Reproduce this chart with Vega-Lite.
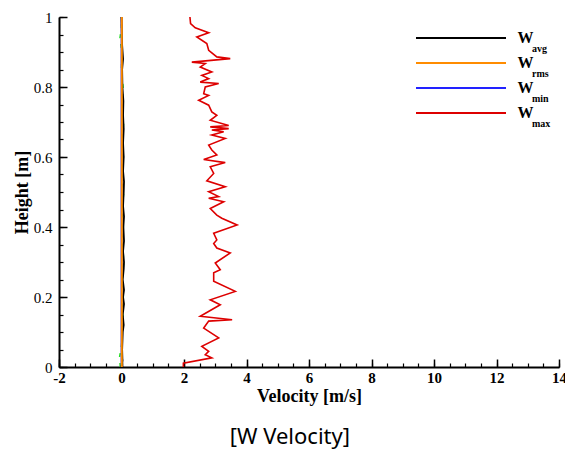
{
  "$schema": "https://vega.github.io/schema/vega-lite/v6.json",
  "width": 500,
  "height": 350,
  "autosize": {"type": "none"},
  "padding": {"left": 59, "top": 17, "right": 6, "bottom": 87},
  "background": "white",
  "config": {"view": {"stroke": null}},
  "title": {"text": "[W Velocity]", "orient": "bottom", "frame": "bounds", "anchor": "middle", "font": "Noto Sans", "fontSize": 22, "fontWeight": "normal", "color": "black", "offset": 22},
  "datasets": {
    "lines": [
      {"series": "min", "h": 0.0, "w": 0.0}, {"series": "min", "h": 0.5, "w": 0.0}, {"series": "min", "h": 1.0, "w": 0.0},
      {"series": "rms", "h": 0.0, "w": 0.01}, {"series": "rms", "h": 0.5, "w": 0.01}, {"series": "rms", "h": 1.0, "w": 0.01},
      {"series": "avg", "h": 0.0, "w": 0.0}, {"series": "avg", "h": 0.02, "w": 0.03}, {"series": "avg", "h": 0.05, "w": 0.02},
      {"series": "avg", "h": 0.1, "w": 0.04}, {"series": "avg", "h": 0.12, "w": 0.07}, {"series": "avg", "h": 0.15, "w": 0.04},
      {"series": "avg", "h": 0.18, "w": 0.08}, {"series": "avg", "h": 0.2, "w": 0.05}, {"series": "avg", "h": 0.22, "w": 0.08},
      {"series": "avg", "h": 0.25, "w": 0.04}, {"series": "avg", "h": 0.28, "w": 0.07}, {"series": "avg", "h": 0.3, "w": 0.08},
      {"series": "avg", "h": 0.33, "w": 0.05}, {"series": "avg", "h": 0.36, "w": 0.08}, {"series": "avg", "h": 0.4, "w": 0.06},
      {"series": "avg", "h": 0.43, "w": 0.08}, {"series": "avg", "h": 0.46, "w": 0.05}, {"series": "avg", "h": 0.5, "w": 0.07},
      {"series": "avg", "h": 0.53, "w": 0.08}, {"series": "avg", "h": 0.56, "w": 0.05}, {"series": "avg", "h": 0.6, "w": 0.07},
      {"series": "avg", "h": 0.64, "w": 0.05}, {"series": "avg", "h": 0.68, "w": 0.07}, {"series": "avg", "h": 0.72, "w": 0.05},
      {"series": "avg", "h": 0.76, "w": 0.06}, {"series": "avg", "h": 0.8, "w": 0.03}, {"series": "avg", "h": 0.85, "w": 0.02},
      {"series": "avg", "h": 0.88, "w": 0.05}, {"series": "avg", "h": 0.92, "w": 0.02}, {"series": "avg", "h": 0.96, "w": 0.01},
      {"series": "avg", "h": 1.0, "w": 0.0},
      {"series": "max", "h": 0.0, "w": 1.98}, {"series": "max", "h": 0.011, "w": 1.98}, {"series": "max", "h": 0.026, "w": 2.89},
      {"series": "max", "h": 0.035, "w": 2.68}, {"series": "max", "h": 0.045, "w": 2.79}, {"series": "max", "h": 0.059, "w": 2.57},
      {"series": "max", "h": 0.083, "w": 3.11}, {"series": "max", "h": 0.111, "w": 2.63}, {"series": "max", "h": 0.131, "w": 2.79},
      {"series": "max", "h": 0.135, "w": 3.54}, {"series": "max", "h": 0.145, "w": 2.52}, {"series": "max", "h": 0.178, "w": 3.16},
      {"series": "max", "h": 0.192, "w": 2.84}, {"series": "max", "h": 0.216, "w": 3.64}, {"series": "max", "h": 0.245, "w": 2.95},
      {"series": "max", "h": 0.269, "w": 2.95}, {"series": "max", "h": 0.278, "w": 3.16}, {"series": "max", "h": 0.297, "w": 3.0},
      {"series": "max", "h": 0.326, "w": 3.48}, {"series": "max", "h": 0.34, "w": 3.05}, {"series": "max", "h": 0.353, "w": 2.95},
      {"series": "max", "h": 0.363, "w": 3.05}, {"series": "max", "h": 0.382, "w": 2.95}, {"series": "max", "h": 0.406, "w": 3.7},
      {"series": "max", "h": 0.425, "w": 3.21}, {"series": "max", "h": 0.434, "w": 3.05}, {"series": "max", "h": 0.453, "w": 2.84},
      {"series": "max", "h": 0.472, "w": 3.27}, {"series": "max", "h": 0.482, "w": 2.79}, {"series": "max", "h": 0.487, "w": 3.11},
      {"series": "max", "h": 0.501, "w": 2.79}, {"series": "max", "h": 0.515, "w": 3.32}, {"series": "max", "h": 0.532, "w": 2.73},
      {"series": "max", "h": 0.553, "w": 2.95}, {"series": "max", "h": 0.572, "w": 2.84}, {"series": "max", "h": 0.584, "w": 3.32},
      {"series": "max", "h": 0.593, "w": 2.63}, {"series": "max", "h": 0.606, "w": 3.05}, {"series": "max", "h": 0.62, "w": 2.89},
      {"series": "max", "h": 0.634, "w": 2.79}, {"series": "max", "h": 0.653, "w": 3.32}, {"series": "max", "h": 0.663, "w": 2.89},
      {"series": "max", "h": 0.672, "w": 3.27}, {"series": "max", "h": 0.677, "w": 2.89}, {"series": "max", "h": 0.681, "w": 3.43},
      {"series": "max", "h": 0.686, "w": 2.84}, {"series": "max", "h": 0.69, "w": 3.43}, {"series": "max", "h": 0.705, "w": 2.84},
      {"series": "max", "h": 0.719, "w": 3.05}, {"series": "max", "h": 0.729, "w": 2.89}, {"series": "max", "h": 0.748, "w": 2.79},
      {"series": "max", "h": 0.762, "w": 2.47}, {"series": "max", "h": 0.776, "w": 2.79}, {"series": "max", "h": 0.781, "w": 2.63},
      {"series": "max", "h": 0.8, "w": 2.68}, {"series": "max", "h": 0.81, "w": 3.11}, {"series": "max", "h": 0.814, "w": 2.52},
      {"series": "max", "h": 0.824, "w": 2.79}, {"series": "max", "h": 0.833, "w": 2.57}, {"series": "max", "h": 0.843, "w": 2.89},
      {"series": "max", "h": 0.857, "w": 2.52}, {"series": "max", "h": 0.867, "w": 2.68}, {"series": "max", "h": 0.871, "w": 2.25},
      {"series": "max", "h": 0.881, "w": 3.48}, {"series": "max", "h": 0.886, "w": 3.05}, {"series": "max", "h": 0.905, "w": 2.79},
      {"series": "max", "h": 0.924, "w": 2.73}, {"series": "max", "h": 0.943, "w": 2.41}, {"series": "max", "h": 0.955, "w": 2.79},
      {"series": "max", "h": 0.969, "w": 2.36}, {"series": "max", "h": 0.981, "w": 2.21}, {"series": "max", "h": 1.0, "w": 2.19}
    ],
    "green": [
      {"h": 0.0, "w": -0.04}, {"h": 0.03, "w": -0.06}, {"h": 0.06, "w": 0.0}, {"h": 0.1, "w": 0.02}, {"h": 0.13, "w": 0.06},
      {"h": 0.17, "w": 0.02}, {"h": 0.2, "w": 0.06}, {"h": 0.25, "w": 0.03}, {"h": 0.3, "w": 0.07}, {"h": 0.35, "w": 0.04},
      {"h": 0.4, "w": 0.06}, {"h": 0.45, "w": 0.03}, {"h": 0.5, "w": 0.07}, {"h": 0.55, "w": 0.02}, {"h": 0.6, "w": 0.06},
      {"h": 0.65, "w": 0.03}, {"h": 0.7, "w": 0.07}, {"h": 0.75, "w": 0.02}, {"h": 0.8, "w": 0.05}, {"h": 0.85, "w": 0.0},
      {"h": 0.9, "w": 0.01}, {"h": 0.94, "w": -0.05}, {"h": 0.97, "w": 0.0}, {"h": 1.0, "w": 0.0}
    ],
    "subs": [{"sub": "avg"}, {"sub": "rms"}, {"sub": "min"}, {"sub": "max"}]
  },
  "resolve": {"axis": {"x": "independent", "y": "independent"}},
  "layer": [
    {
      "data": {"name": "green"},
      "mark": {"type": "line", "color": "#22dd22", "strokeWidth": 1.5, "strokeDash": [4, 6]},
      "encoding": {
        "x": {"field": "w", "type": "quantitative", "scale": {"domain": [-2, 14], "nice": false, "zero": false},
              "axis": {"orient": "bottom", "values": [-2,-1.5,-1,-0.5,0,0.5,1,1.5,2,2.5,3,3.5,4,4.5,5,5.5,6,6.5,7,7.5,8,8.5,9,9.5,10,10.5,11,11.5,12,12.5,13,13.5,14], "labels": false, "domain": false, "grid": false, "tickSize": -4, "tickWidth": 1.2, "tickColor": "black", "title": null}},
        "y": {"field": "h", "type": "quantitative", "scale": {"domain": [0, 1], "nice": false},
              "axis": {"orient": "left", "values": [0,0.05,0.1,0.15,0.2,0.25,0.3,0.35,0.4,0.45,0.5,0.55,0.6,0.65,0.7,0.75,0.8,0.85,0.9,0.95,1], "labels": false, "domain": false, "grid": false, "tickSize": -4, "tickWidth": 1.2, "tickColor": "black", "title": null}},
        "order": {"field": "h", "type": "quantitative"}
      }
    },
    {
      "data": {"name": "lines"},
      "transform": [{"filter": "datum.series === 'avg' || datum.series === 'min'"}],
      "mark": {"type": "line", "strokeWidth": 1.8},
      "encoding": {
        "x": {"field": "w", "type": "quantitative",
              "axis": {"orient": "bottom", "values": [-2,0,2,4,6,8,10,12,14], "labelExpr": "datum.value < 0 ? '-' + abs(datum.value) : '' + datum.value", "grid": false, "tickSize": -8, "tickWidth": 1.5, "tickColor": "black", "domainColor": "black", "domainWidth": 2, "labelFont": "Liberation Serif", "labelFontSize": 15, "labelFontWeight": "bold", "labelColor": "black", "labelPadding": 11, "labelFlush": false, "labelOverlap": false, "title": "Velocity [m/s]", "titleFont": "Liberation Serif", "titleFontSize": 18, "titleFontWeight": "bold", "titleColor": "black", "titlePadding": 2}},
        "y": {"field": "h", "type": "quantitative",
              "axis": {"orient": "left", "values": [0,0.2,0.4,0.6,0.8,1], "format": "~g", "grid": false, "tickSize": -8, "tickWidth": 1.5, "tickColor": "black", "domainColor": "black", "domainWidth": 2, "labelFont": "Liberation Serif", "labelFontSize": 15, "labelColor": "black", "labelPadding": 15, "labelFlush": false, "labelOverlap": false, "title": "Height [m]", "titleFont": "Liberation Serif", "titleFontSize": 18, "titleFontWeight": "bold", "titleColor": "black", "titlePadding": 2}},
        "order": {"field": "h", "type": "quantitative"},
        "color": {"field": "series", "type": "nominal",
                  "scale": {"domain": ["avg", "rms", "min", "max"], "range": ["#000000", "#ff8c00", "#2222ff", "#dd0000"]},
                  "legend": {"title": null, "orient": "none", "legendX": 394, "legendY": 13, "padding": 0, "symbolType": "M-10,0H10", "symbolSize": 81, "symbolStrokeWidth": 2, "symbolFillColor": "transparent", "labelExpr": "'W'", "labelFont": "Liberation Serif", "labelFontSize": 16, "labelFontWeight": "bold", "labelColor": "black", "labelOffset": 48.5, "rowPadding": 9}}
      }
    },
    {
      "data": {"name": "lines"},
      "transform": [{"filter": "datum.series === 'rms'"}],
      "mark": {"type": "line", "strokeWidth": 2},
      "encoding": {
        "x": {"field": "w", "type": "quantitative", "axis": null},
        "y": {"field": "h", "type": "quantitative", "axis": null},
        "order": {"field": "h", "type": "quantitative"},
        "color": {"field": "series", "type": "nominal"}
      }
    },
    {
      "data": {"name": "lines"},
      "transform": [{"filter": "datum.series === 'max'"}],
      "mark": {"type": "line", "strokeWidth": 1.6},
      "encoding": {
        "x": {"field": "w", "type": "quantitative", "axis": null},
        "y": {"field": "h", "type": "quantitative", "axis": null},
        "order": {"field": "h", "type": "quantitative"},
        "color": {"field": "series", "type": "nominal"}
      }
    },
    {
      "data": {"name": "subs"},
      "mark": {"type": "point", "opacity": 0},
      "encoding": {
        "shape": {"field": "sub", "type": "nominal",
                  "scale": {"domain": ["avg", "rms", "min", "max", "none"], "range": ["circle", "circle", "circle", "circle", "circle"]},
                  "legend": {"title": null, "values": ["avg", "rms", "min", "max"], "orient": "none", "legendX": 463, "legendY": 27, "padding": 0, "symbolOpacity": 0, "symbolSize": 16, "symbolStrokeWidth": 0, "labelFont": "Liberation Serif", "labelFontSize": 10, "labelFontWeight": "bold", "labelColor": "black", "labelOffset": 0, "rowPadding": 15}}
      }
    }
  ]
}
